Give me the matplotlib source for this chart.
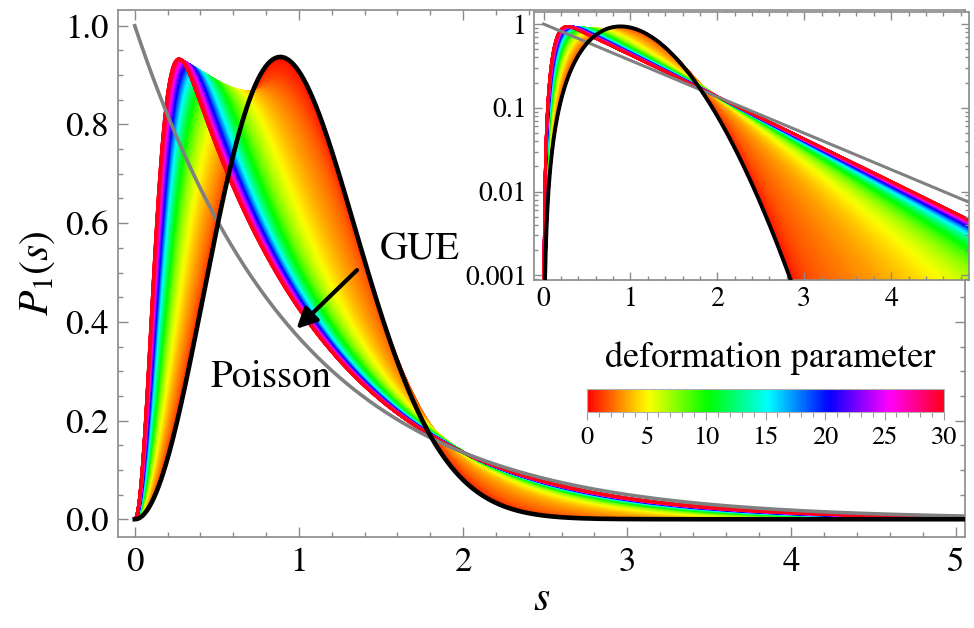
import numpy as np
import matplotlib
matplotlib.use('Agg')
import matplotlib.pyplot as plt
from matplotlib.collections import LineCollection
from matplotlib.ticker import MultipleLocator, FixedLocator, LogLocator, NullFormatter
from matplotlib.cm import ScalarMappable
from matplotlib.colors import Normalize

plt.rcParams['font.family'] = ['STIXGeneral', 'Liberation Serif', 'DejaVu Serif']
plt.rcParams['mathtext.fontset'] = 'stix'

# deformation parameter range, number of curves that fill the band
param_min, param_max = 0.0, 30.0
n_curves = 480
# shape of the deformed spacing distribution (hole width, gaussian weights)
w_scale, w_power = 1.75, 0.68
gauss_a3, gauss_a1 = 0.20, 0.02

main_xticks = [0, 1, 2, 3, 4, 5]
main_yticks = [0.0, 0.2, 0.4, 0.6, 0.8, 1.0]
inset_xticks = [0, 1, 2, 3, 4]
inset_yticks = [0.001, 0.01, 0.1, 1]
inset_ylabels = ['0.001', '0.01', '0.1', '1']
cbar_ticks = [0, 5, 10, 15, 20, 25, 30]


def gue(s):
    return 32 / np.pi**2 * s**2 * np.exp(-4 * s**2 / np.pi)


def poisson(s):
    return np.exp(-s)


grid = np.linspace(0, 40, 80001)


def deformed(p, s):
    w = w_scale * p**(-w_power)
    a = gauss_a3 * (2.5 / p)**3 + gauss_a1 * (10 / p)**1.5
    shape = lambda x: -np.expm1(-(x / w)**2) * np.exp(-x - a * x**2)
    f = shape(grid)
    A = np.trapezoid(f, grid)
    m = np.trapezoid(grid * f, grid) / A
    return m / A * shape(m * s)


t = np.linspace(0.04, 1.0, n_curves)
params = param_max * t**2
cmap = plt.cm.hsv
norm = Normalize(param_min, param_max)

s_main = np.linspace(0, 5.1, 700)
s_log = np.concatenate([np.linspace(0, 0.3, 400), np.linspace(0.3, 5.0, 600)[1:]])

segs_main, segs_log, cols = [], [], []
for p in params:
    segs_main.append(np.column_stack([s_main, deformed(p, s_main)]))
    y = np.clip(deformed(p, s_log), 1e-8, None)
    segs_log.append(np.column_stack([s_log, y]))
    cols.append(cmap(norm(p)))

fig = plt.figure(figsize=(9.74, 6.28), dpi=100)
ax = fig.add_axes([0.1215, 0.1449, 0.8693, 0.8392])

ax.add_collection(LineCollection(segs_main, colors=cols, linewidths=2.0, zorder=1))
ax.plot(s_main, poisson(s_main), color='#808080', lw=2.6, zorder=2)
ax.plot(s_main, gue(s_main), color='black', lw=3.3, zorder=3)

ax.set_xlim(-0.1, 5.057)
ax.set_ylim(-0.036, 1.032)
ax.xaxis.set_major_locator(FixedLocator(main_xticks))
ax.xaxis.set_minor_locator(MultipleLocator(0.2))
ax.yaxis.set_major_locator(FixedLocator(main_yticks))
ax.yaxis.set_minor_locator(MultipleLocator(0.05))
ax.yaxis.set_major_formatter(plt.FuncFormatter(lambda v, _: f'{v:.1f}'))
ax.tick_params(which='both', direction='in', top=True, right=True, color='#8a8a8a', width=1.0)
ax.tick_params(which='major', length=7, labelsize=25, pad=7)
ax.tick_params(which='minor', length=3.5)
for sp in ax.spines.values():
    sp.set_color('#8a8a8a')
    sp.set_linewidth(1.2)
ax.set_xlabel(r'$s$', fontsize=30, labelpad=2)
ax.set_ylabel(r'$P_1(s)$', fontsize=30, labelpad=6)

ax.text(1.49, 0.545, 'GUE', fontsize=28, ha='left', va='center')
ax.text(0.46, 0.286, 'Poisson', fontsize=28, ha='left', va='center')
ax.annotate('', xy=(0.985, 0.386), xytext=(1.354, 0.505),
            arrowprops=dict(arrowstyle='-|>', color='black', lw=3,
                            mutation_scale=30, shrinkA=0, shrinkB=0), zorder=5)

# inset on log scale
ins = fig.add_axes([0.5483, 0.5541, 0.4469, 0.4263])
ins.set_facecolor('white')
ins.add_collection(LineCollection(segs_log, colors=cols, linewidths=1.8, zorder=1))
ins.plot(s_log, poisson(s_log), color='#808080', lw=2.2, zorder=2)
ins.plot(s_log, np.clip(gue(s_log), 1e-8, None), color='black', lw=2.8, zorder=3)
ins.set_yscale('log')
ins.set_xlim(-0.11, 4.9)
ins.set_ylim(8.8e-4, 1.38)
ins.xaxis.set_major_locator(FixedLocator(inset_xticks))
ins.xaxis.set_minor_locator(MultipleLocator(0.2))
ins.yaxis.set_major_locator(FixedLocator(inset_yticks))
ins.set_yticklabels(inset_ylabels)
ins.yaxis.set_minor_locator(LogLocator(base=10, subs=np.arange(2, 10)))
ins.yaxis.set_minor_formatter(NullFormatter())
ins.tick_params(which='both', direction='in', top=True, right=True, color='#8a8a8a', width=1.0)
ins.tick_params(which='major', length=6, labelsize=20, pad=5)
ins.tick_params(which='minor', length=3)
for sp in ins.spines.values():
    sp.set_color('#8a8a8a')
    sp.set_linewidth(1.2)

# colour bar for the deformation parameter
cax = fig.add_axes([0.6027, 0.3435, 0.3665, 0.0371])
cb = fig.colorbar(ScalarMappable(norm=norm, cmap=cmap), cax=cax, orientation='horizontal')
cb.set_ticks(cbar_ticks)
cb.ax.xaxis.set_minor_locator(MultipleLocator(1))
cb.ax.tick_params(which='both', direction='out', color='#9a9a9a', width=0.8)
cb.ax.tick_params(which='major', length=6, labelsize=19, pad=4)
cb.ax.tick_params(which='minor', length=3.5)
cb.outline.set_edgecolor('#b0b0b0')
cb.outline.set_linewidth(0.8)
fig.text(770 / 974, 1 - 358 / 628, 'deformation parameter', fontsize=26, ha='center', va='center')

fig.savefig('out.png', dpi=100)
